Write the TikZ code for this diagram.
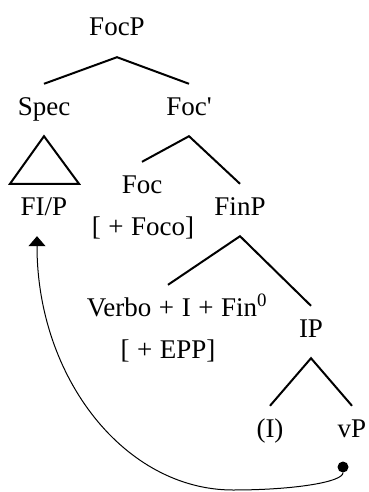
\documentclass[tikz,border=0pt]{standalone}
\usepackage{fontspec}
\setmainfont{Liberation Serif}
\usetikzlibrary{arrows.meta}

\newcommand{\opsp}{\hspace{0.28em}}

\begin{document}
\begin{tikzpicture}[x=1pt,y=-1pt,
		lbl/.style={anchor=base, inner sep=0pt, text height=31pt, text depth=21pt, font=\fontsize{27}{32}\selectfont},
		branch/.style={line width=2pt},
		movement/.style={line width=1pt, -{Triangle[length=10pt,width=17pt]}}]
		\useasboundingbox (0,0) rectangle (368,492);

		\node[lbl] (focp) at (117,36) {FocP};
		\node[lbl] (spec) at (44,115) {Spec};
		\node[lbl] (focbar) at (189,115) {Foc\textquotesingle};
		\node[lbl] (fip) at (44,215) {FI/P};
		\node[lbl] (foc) at (142,193) {Foc};
		\node[lbl] (foco) at (143,235) {[\opsp+\opsp Foco]};
		\node[lbl] (finp) at (240,215) {FinP};
		\node[lbl] (verbo) at (177,316) {Verbo\opsp+\opsp I\opsp+\opsp Fin\textsuperscript{0}};
		\node[lbl] (epp) at (168,358) {[\opsp+\opsp EPP]};
		\node[lbl] (ip) at (311,337) {IP};
		\node[lbl] (infl) at (270,437) {(I)};
		\node[lbl] (vp) at (352,437) {vP};
		\node[circle, fill, inner sep=0pt, minimum size=11pt] (trace) at (343,467) {};

		\draw[branch] (spec.north) -- (focp.south) -- (focbar.north);
		\draw[branch, line join=miter] (spec.south) -- ([xshift=-34pt]fip.north) -- ([xshift=35pt]fip.north) -- cycle;
		\draw[branch] (foc.north) -- (focbar.south) -- (finp.north);
		\draw[branch] ([xshift=-9pt]verbo.north) -- (finp.south) -- (ip.north);
		\draw[branch] (infl.north) -- (ip.south) -- (vp.north);

		\draw[movement] (trace.south) .. controls (343,482) and (294,490) .. (233,490)
			.. controls (125,490) and (37,378) .. ([xshift=-7pt]fip.south);
	\end{tikzpicture}
\end{document}
